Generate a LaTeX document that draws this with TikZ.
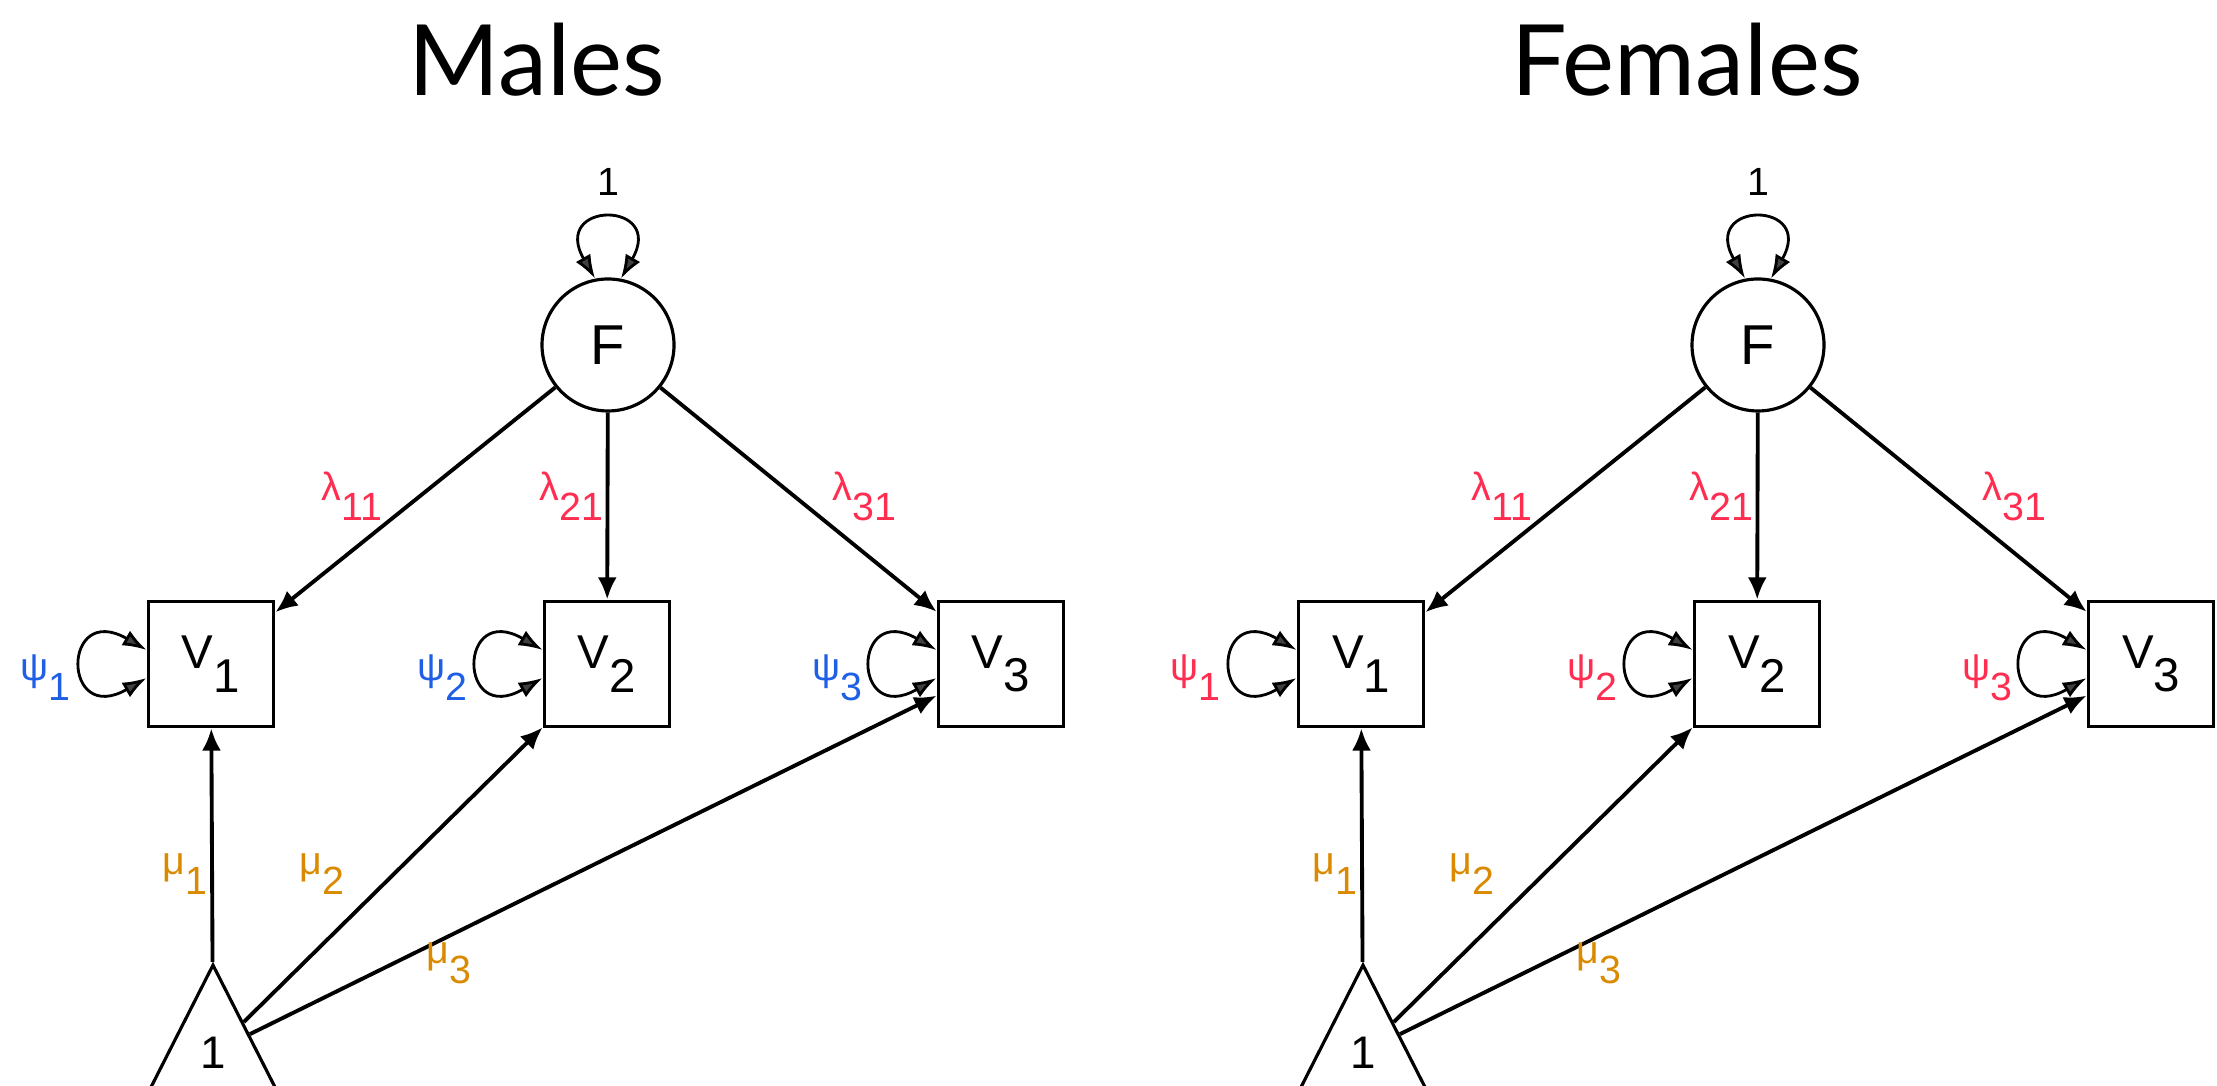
\documentclass[tikz,border=0pt]{standalone}
\usepackage{fontspec}
\setmainfont{Liberation Sans}
\newfontfamily\titlefont{Lato}
\usetikzlibrary{arrows.meta,shapes.geometric}
\definecolor{psiblue}{RGB}{30,95,230}
\definecolor{lamred}{RGB}{255,45,80}
\definecolor{muorange}{RGB}{217,138,0}
\definecolor{headgray}{RGB}{64,64,64}
\newcommand{\lowix}[1]{\raisebox{-0.5em}{#1}}

\begin{document}
\begin{tikzpicture}[line cap=butt,line join=miter,>={Latex[length=6.3pt,width=5.4pt]},
		latcirc/.style={draw,circle,line width=0.9pt,minimum size=1.32cm,inner sep=0pt,font=\fontsize{16}{18}\selectfont},
		obsbox/.style={draw,rectangle,line width=1.1pt,minimum size=1.25cm,inner sep=0pt,font=\fontsize{13.5}{15}\selectfont},
		meantri/.style={draw,isosceles triangle,isosceles triangle stretches,shape border rotate=90,
			minimum width=1.26cm,minimum height=1.24cm,inner sep=0pt,line width=0.9pt,anchor=apex,font=\fontsize{13}{15}\selectfont},
		regarr/.style={->,line width=1.1pt},
		varloop/.style={{Latex[length=6.8pt,width=4.8pt,fill=headgray]}-{Latex[length=6.8pt,width=4.8pt,fill=headgray]},line width=0.8pt,looseness=9},
		coef/.style={anchor=base west,inner sep=0pt,font=\fontsize{11.2}{13}\selectfont},
		grouptitle/.style={anchor=base,inner sep=0pt,font=\titlefont\fontsize{28}{30}\selectfont}
	]
	\useasboundingbox (0,0) rectangle (22.17,10.86);
	% males
	\node[grouptitle] (titlem) at (5.37,9.90) {Males};
	\node[latcirc] (Fm) at (6.08,7.41) {F};
	\node[obsbox] (V1m) at (2.11,4.22) {V\lowix{1}};
	\node[obsbox] (V2m) at (6.07,4.22) {V\lowix{2}};
	\node[obsbox] (V3m) at (10.01,4.22) {V\lowix{3}};
	\node[meantri] (Tm) at (2.13,1.25) {1};
	\node[coef,anchor=base] (onem) at (6.08,8.90) {1};
	\draw[varloop] (Fm.101) to[out=120,in=60] (Fm.79);
	\draw[varloop] ([yshift=0.14cm]V1m.west) to[out=150,in=210] ([yshift=-0.14cm]V1m.west);
	\draw[varloop] ([yshift=0.14cm]V2m.west) to[out=150,in=210] ([yshift=-0.14cm]V2m.west);
	\draw[varloop] ([yshift=0.14cm]V3m.west) to[out=150,in=210] ([yshift=-0.14cm]V3m.west);
	\draw[regarr] (Fm)--(V1m); \draw[regarr] (Fm)--(V2m); \draw[regarr] (Fm)--(V3m);
	\draw[regarr] (Tm)--(V1m); \draw[regarr] (Tm)--(V2m); \draw[regarr] (Tm)--(V3m);
	\node[coef,lamred] (l1m) at (3.21,5.85) {λ\lowix{11}};
	\node[coef,lamred] (l2m) at (5.39,5.85) {λ\lowix{21}};
	\node[coef,lamred] (l3m) at (8.32,5.85) {λ\lowix{31}};
	\node[coef,muorange] (m1m) at (1.62,2.11) {μ\lowix{1}};
	\node[coef,muorange] (m2m) at (2.99,2.11) {μ\lowix{2}};
	\node[coef,muorange] (m3m) at (4.26,1.22) {μ\lowix{3}};
	\node[coef,psiblue] (p1m) at (0.20,4.05) {ψ\lowix{1}};
	\node[coef,psiblue] (p2m) at (4.17,4.05) {ψ\lowix{2}};
	\node[coef,psiblue] (p3m) at (8.12,4.05) {ψ\lowix{3}};
	% females
	\node[grouptitle] (titlef) at (16.87,9.90) {Females};
	\node[latcirc] (Ff) at (17.58,7.41) {F};
	\node[obsbox] (V1f) at (13.61,4.22) {V\lowix{1}};
	\node[obsbox] (V2f) at (17.57,4.22) {V\lowix{2}};
	\node[obsbox] (V3f) at (21.51,4.22) {V\lowix{3}};
	\node[meantri] (Tf) at (13.63,1.25) {1};
	\node[coef,anchor=base] (onef) at (17.58,8.90) {1};
	\draw[varloop] (Ff.101) to[out=120,in=60] (Ff.79);
	\draw[varloop] ([yshift=0.14cm]V1f.west) to[out=150,in=210] ([yshift=-0.14cm]V1f.west);
	\draw[varloop] ([yshift=0.14cm]V2f.west) to[out=150,in=210] ([yshift=-0.14cm]V2f.west);
	\draw[varloop] ([yshift=0.14cm]V3f.west) to[out=150,in=210] ([yshift=-0.14cm]V3f.west);
	\draw[regarr] (Ff)--(V1f); \draw[regarr] (Ff)--(V2f); \draw[regarr] (Ff)--(V3f);
	\draw[regarr] (Tf)--(V1f); \draw[regarr] (Tf)--(V2f); \draw[regarr] (Tf)--(V3f);
	\node[coef,lamred] (l1f) at (14.71,5.85) {λ\lowix{11}};
	\node[coef,lamred] (l2f) at (16.89,5.85) {λ\lowix{21}};
	\node[coef,lamred] (l3f) at (19.82,5.85) {λ\lowix{31}};
	\node[coef,muorange] (m1f) at (13.12,2.11) {μ\lowix{1}};
	\node[coef,muorange] (m2f) at (14.49,2.11) {μ\lowix{2}};
	\node[coef,muorange] (m3f) at (15.76,1.22) {μ\lowix{3}};
	\node[coef,lamred] (p1f) at (11.70,4.05) {ψ\lowix{1}};
	\node[coef,lamred] (p2f) at (15.67,4.05) {ψ\lowix{2}};
	\node[coef,lamred] (p3f) at (19.62,4.05) {ψ\lowix{3}};
\end{tikzpicture}
\end{document}
